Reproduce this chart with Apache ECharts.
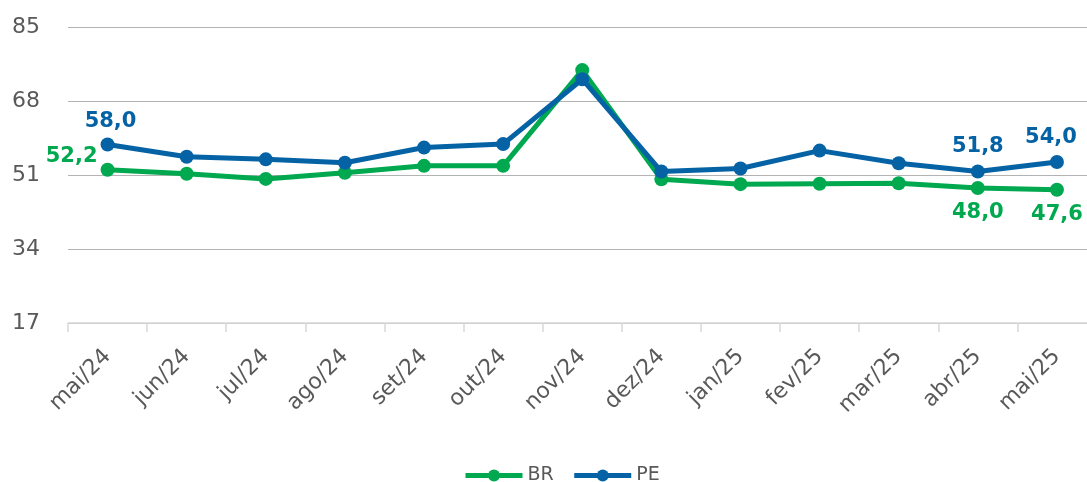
<!DOCTYPE html>
<html><head><meta charset="utf-8">
<script src="https://cdn.jsdelivr.net/npm/echarts@6/dist/echarts.min.js"></script>
<style>html,body{margin:0;padding:0;background:#fff}#c{width:1087px;height:482px}</style>
</head><body><div id="c"></div>
<script>
const categories = ['mai/24','jun/24','jul/24','ago/24','set/24','out/24','nov/24','dez/24','jan/25','fev/25','mar/25','abr/25','mai/25'];
const brValues = [52.2, 51.3, 50.1, 51.5, 53.1, 53.1, 75.1, 50.0, 48.9, 49.0, 49.1, 48.0, 47.6];
const peValues = [58.0, 55.2, 54.6, 53.8, 57.3, 58.1, 73.0, 51.8, 52.5, 56.6, 53.7, 51.8, 54.0];
const yTicks = [17, 34, 51, 68, 85];

const FONT = '"DejaVu Sans", sans-serif';
const GREEN = '#00A94F';
const BLUE = '#0563A5';
const fmt = v => v.toFixed(1).replace('.', ',');

function labelData(values, cfg) {
  return values.map((v, i) => {
    const c = cfg[i];
    if (!c) return v;
    return { value: v, label: Object.assign({ show: true }, c) };
  });
}

const brLabels = {
  0: { position: 'left', distance: 3, offset: [0, -13] },
  11: { position: 'bottom', distance: 7 },
  12: { position: 'bottom', distance: 7 }
};
const peLabels = {
  0: { position: 'top', distance: 5, offset: [3, 0] },
  11: { position: 'top', distance: 7 },
  12: { position: 'top', distance: 7, offset: [-6, 0] }
};

const labelStyle = color => ({
  show: false,
  color: color,
  fontFamily: FONT,
  fontWeight: 'bold',
  fontSize: 21,
  formatter: p => fmt(p.value)
});

const chart = echarts.init(document.getElementById('c'), null, { renderer: 'canvas' });
chart.setOption({
  animation: false,
  grid: { left: 68, top: 27, width: 1028.5, height: 296, containLabel: false, outerBoundsMode: 'none' },
  legend: {
    left: 458, top: 461,
    itemWidth: 57, itemHeight: 15, itemGap: 18,
    lineStyle: { width: 5 },
    textStyle: { fontFamily: FONT, fontSize: 19, color: '#595959' },
    data: ['BR', 'PE']
  },
  xAxis: {
    type: 'category',
    data: categories,
    boundaryGap: true,
    axisLine: { lineStyle: { color: '#d9d9d9', width: 1.5 } },
    axisTick: { show: true, length: 9, lineStyle: { color: '#d9d9d9', width: 1.5 } },
    axisLabel: { rotate: 45, margin: 30, fontFamily: FONT, fontSize: 22, color: '#595959', interval: 0 }
  },
  yAxis: {
    type: 'value',
    min: yTicks[0], max: yTicks[yTicks.length - 1], interval: yTicks[1] - yTicks[0],
    axisLine: { show: false },
    axisTick: { show: false },
    splitLine: { lineStyle: { color: '#b3b3b3', width: 1 } },
    axisLabel: { margin: 28, fontFamily: FONT, fontSize: 22, color: '#595959' }
  },
  series: [
    {
      name: 'BR', type: 'line',
      data: labelData(brValues, brLabels),
      color: GREEN,
      symbol: 'circle', symbolSize: 14,
      lineStyle: { width: 5, color: GREEN },
      itemStyle: { color: GREEN },
      label: labelStyle(GREEN),
      z: 2
    },
    {
      name: 'PE', type: 'line',
      data: labelData(peValues, peLabels),
      color: BLUE,
      symbol: 'circle', symbolSize: 14,
      lineStyle: { width: 5, color: BLUE },
      itemStyle: { color: BLUE },
      label: labelStyle(BLUE),
      z: 3
    }
  ]
});
</script></body></html>
